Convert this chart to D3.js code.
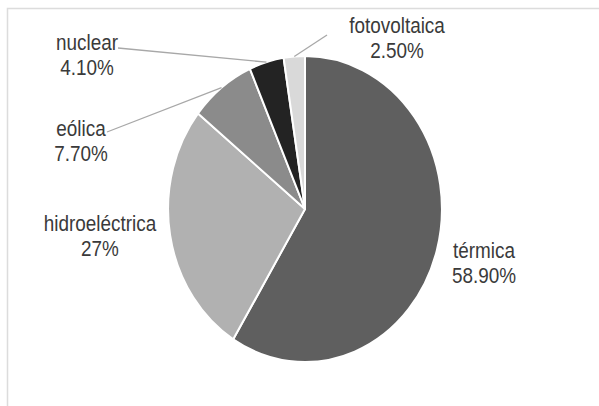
<!DOCTYPE html>
<html>
<head>
<meta charset="utf-8">
<script src="https://cdn.jsdelivr.net/npm/d3@7"></script>
<style>
  html, body { margin: 0; padding: 0; background: #fff; }
  svg { display: block; }
</style>
</head>
<body>
<svg id="chart" width="599" height="406"></svg>
<script>
// ---- data ----
const categories = ["térmica", "hidroeléctrica", "eólica", "nuclear", "fotovoltaica"];
const values = [58.9, 27, 7.7, 4.1, 2.5];
const valueLabels = ["58.90%", "27%", "7.70%", "4.10%", "2.50%"];

// ---- styling / layout ----
const colors = ["#5f5f5f", "#b1b1b1", "#8b8b8b", "#232323", "#d9d9d9"];
const W = 599, H = 406;
const cx = 305, cy = 209, R = 153, sx = 0.895;   // pie stretched (ellipse)
const textScale = 0.86;
// label anchor (center x, first baseline y) and leader-line start
const labelLayout = [
  { x: 484, y: 258, line: null },
  { x: 100, y: 231, line: null },
  { x: 81,  y: 136, line: [107, 132] },
  { x: 87,  y: 50,  line: [118, 48] },
  { x: 397, y: 33,  line: [327, 35] }
];

const svg = d3.select("#chart");

// frame
svg.append("rect")
  .attr("x", 7.5).attr("y", 8.5)
  .attr("width", W).attr("height", H)
  .attr("fill", "#fff")
  .attr("stroke", "#dcdcdc")
  .attr("stroke-width", 1.5);

const pie = d3.pie().sort(null).value(d => d)(values);
const arc = d3.arc().innerRadius(0).outerRadius(R);
const edge = d3.arc().innerRadius(R).outerRadius(R);

const g = svg.append("g")
  .attr("transform", `translate(${cx},${cy}) scale(${sx},1)`);

g.selectAll("path")
  .data(pie)
  .join("path")
  .attr("d", arc)
  .attr("fill", (d, i) => colors[i])
  .attr("stroke", "#fff")
  .attr("stroke-width", 2)
  .attr("vector-effect", "non-scaling-stroke")
  .attr("stroke-linejoin", "round");

// leader lines
pie.forEach((d, i) => {
  const L = labelLayout[i];
  if (!L.line) return;
  const [px, py] = edge.centroid(d);
  svg.append("line")
    .attr("x1", L.line[0]).attr("y1", L.line[1])
    .attr("x2", cx + px * sx).attr("y2", cy + py)
    .attr("stroke", "#a8a8a8")
    .attr("stroke-width", 1.3);
});

// labels
pie.forEach((d, i) => {
  const L = labelLayout[i];
  const t = svg.append("g")
    .attr("transform", `translate(${L.x},${L.y}) scale(${textScale},1)`);
  [categories[i], valueLabels[i]].forEach((s, k) => {
    t.append("text")
      .attr("x", 0).attr("y", k * 25.5)
      .attr("text-anchor", "middle")
      .attr("font-family", "'Liberation Sans', Arial, sans-serif")
      .attr("font-size", 22)
      .attr("fill", "#3a3a3a")
      .text(s);
  });
});
</script>
</body>
</html>
